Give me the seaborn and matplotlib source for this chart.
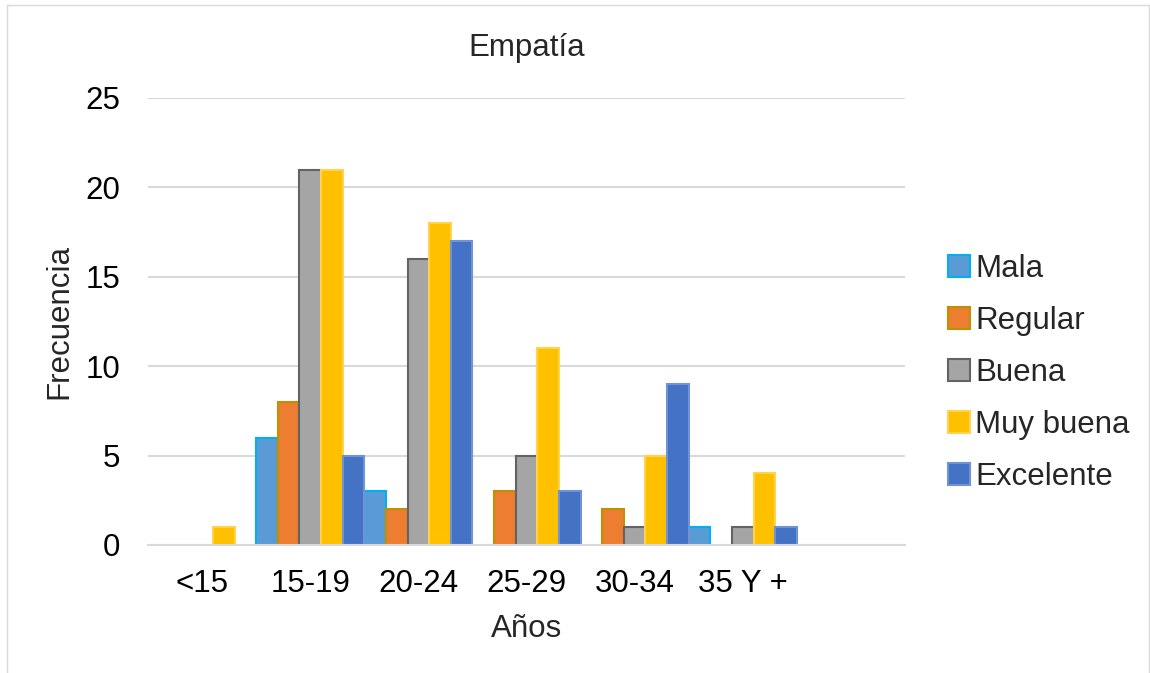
import pandas as pd
import seaborn as sns
import matplotlib.pyplot as plt
import matplotlib.patches as mpatches

# datos
edades = ['<15', '15-19', '20-24', '25-29', '30-34', '35 Y +']
niveles = ['Mala', 'Regular', 'Buena', 'Muy buena', 'Excelente']
mala = [0, 6, 3, 0, 0, 1]
regular = [0, 8, 2, 3, 2, 0]
buena = [0, 21, 16, 5, 1, 1]
muy_buena = [1, 21, 18, 11, 5, 4]
excelente = [0, 5, 17, 3, 9, 1]

colores = ['#5B9BD5', '#ED7D31', '#A5A5A5', '#FFC000', '#4472C4']
bordes = ['#00B0F0', '#BF9000', '#636363', '#FFD34D', '#6F93D6']

frames = []
for nivel, vals in zip(niveles, [mala, regular, buena, muy_buena, excelente]):
    frames.append(pd.DataFrame({'Años': edades, 'Nivel': nivel, 'Frecuencia': vals}))
df = pd.concat(frames, ignore_index=True)

sns.set_style('white')
plt.rcParams['font.family'] = ['Liberation Sans', 'DejaVu Sans']

fs = 22.5
fig = plt.figure(figsize=(11.5, 6.73), dpi=100)
ax = fig.add_axes([0.1287, 0.1902, 0.787 - 0.1287, 0.8544 - 0.1902])

# slot vacio al final como en el grafico original
orden = edades + [' ']
sns.barplot(data=df, x='Años', y='Frecuencia', hue='Nivel', order=orden,
            hue_order=niveles, palette=colores, width=1, gap=0,
            legend=False, ax=ax, errorbar=None, saturation=1)

for cont, ec in zip(ax.containers, bordes):
    for bar in cont:
        if bar.get_height() == 0:
            bar.set_linewidth(0)
        else:
            bar.set_edgecolor(ec)
            bar.set_linewidth(1.5)

ax.set_xlim(-0.5, len(orden) - 0.5)
ax.set_ylim(0, 25)
ax.set_yticks([0, 5, 10, 15, 20, 25])
ax.yaxis.grid(True, color='#D9D9D9', linewidth=1.5)
ax.set_axisbelow(True)
for s in ['top', 'right', 'left']:
    ax.spines[s].set_visible(False)
ax.spines['bottom'].set_color('#D9D9D9')
ax.spines['bottom'].set_linewidth(1.5)
ax.tick_params(axis='both', length=0, labelsize=fs, colors='black')
ax.tick_params(axis='y', pad=20)
ax.tick_params(axis='x', pad=17)

ax.set_title('Empatía', fontsize=fs, pad=30)
ax.set_xlabel('Años', fontsize=fs, labelpad=11)
ax.set_ylabel('Frecuencia', fontsize=fs, labelpad=8)

handles = [mpatches.Patch(facecolor=c, edgecolor=e, linewidth=1.5)
           for c, e in zip(colores, bordes)]
ax.legend(handles, niveles, loc='center left', bbox_to_anchor=(1.02, 0.385),
          frameon=False, fontsize=fs, handlelength=0.7, handleheight=0.7,
          handletextpad=0.15, labelspacing=0.7)

fig.patches.append(mpatches.Rectangle((0.006, -0.01), 0.993, 1.002, transform=fig.transFigure,
                                      fill=False, edgecolor='#D9D9D9', linewidth=1))

fig.savefig('out.png', dpi=100)
